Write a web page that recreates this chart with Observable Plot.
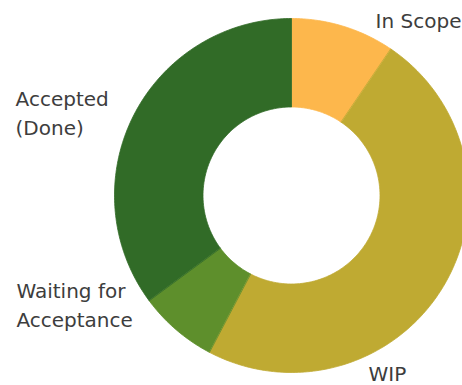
<!DOCTYPE html>
<html><head><meta charset="utf-8">
<script src="https://cdn.jsdelivr.net/npm/d3@7"></script>
<script src="https://cdn.jsdelivr.net/npm/@observablehq/plot@0.6"></script>
<style>html,body{margin:0;padding:0;background:#fff}</style>
</head><body><div id="chart"></div>
<script>
// Data
const categories = ["In Scope", "WIP", "Waiting for Acceptance", "Accepted (Done)"];
const values = [9.5, 48.2, 7.2, 35.1];
const labels = ["In Scope", "WIP", "Waiting for\nAcceptance", "Accepted\n(Done)"];
const colors = ["#FDB74C", "#BFAA32", "#5E8F2C", "#316B27"];
// label anchors in donut units (outer radius = 1)
const labelLayout = [
  {x: 0.475, y: 0.997},
  {x: 0.435, y: -0.995},
  {x: -1.554, y: -0.608},
  {x: -1.559, y: 0.474}
];
const innerRatio = 0.5;

const total = d3.sum(values);
let acc = 0;
const ring = [];
categories.forEach((c, i) => {
  const a0 = acc / total * 2 * Math.PI; acc += values[i];
  const a1 = acc / total * 2 * Math.PI;
  const n = Math.max(2, Math.ceil((a1 - a0) / (Math.PI / 180)));
  for (let k = 0; k <= n; k++) { const a = a0 + (a1 - a0) * k / n; ring.push({name: c, x: Math.sin(a), y: Math.cos(a)}); }
  for (let k = n; k >= 0; k--) { const a = a0 + (a1 - a0) * k / n; ring.push({name: c, x: innerRatio * Math.sin(a), y: innerRatio * Math.cos(a)}); }
});
const labelRows = categories.map((c, i) => ({name: c, text: labels[i], x: labelLayout[i].x, y: labelLayout[i].y}));

const chart = Plot.plot({
  width: 462, height: 385,
  margin: 0,
  style: {background: "#fff"},
  x: {domain: [-1, 1], range: [114, 468], axis: null},
  y: {domain: [-1, 1], range: [372, 18], axis: null},
  color: {type: "ordinal", domain: categories, range: colors},
  marks: [
    Plot.line(ring, {x: "x", y: "y", z: "name", fill: "name", stroke: "name", strokeWidth: 0.8, curve: "linear-closed"}),
    Plot.text(labelRows, {x: "x", y: "y", text: "text", textAnchor: "start", lineHeight: 1.45,
      fontSize: 20, fill: "#3d3d3d", fontFamily: "DejaVu Sans"})
  ]
});
document.getElementById("chart").appendChild(chart);
</script>
</body></html>
